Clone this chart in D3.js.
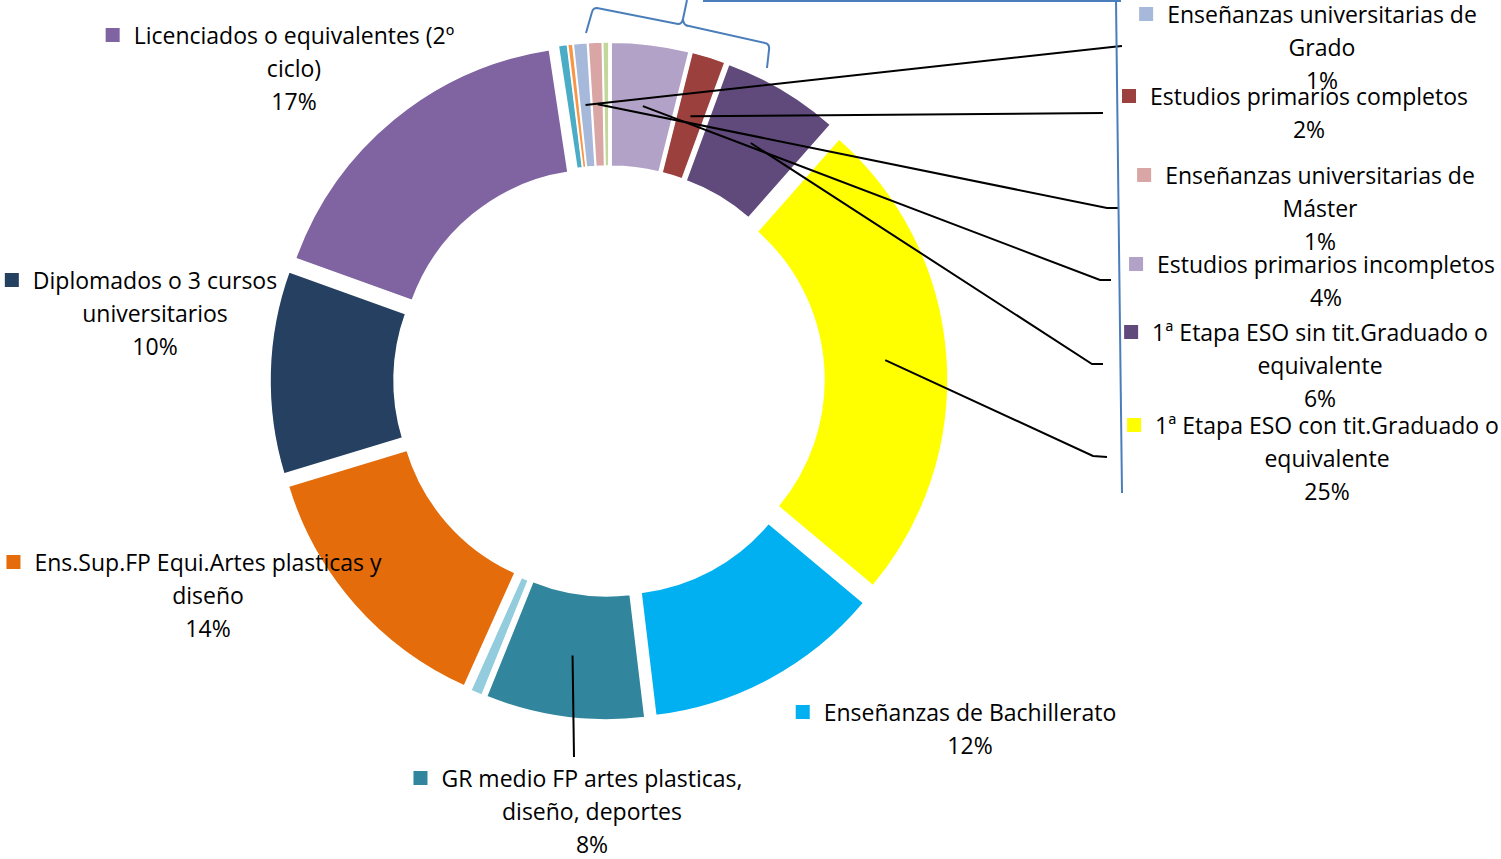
<!DOCTYPE html>
<html>
<head>
<meta charset="utf-8">
<script src="https://cdn.jsdelivr.net/npm/d3@7"></script>
<style>
  body { margin: 0; background: #fff; }
  text { font-family: "Open Sans", sans-serif; fill: #000; }
</style>
</head>
<body>
<script>
// data, clockwise from 12 o'clock
var categories = [
  "Estudios primarios incompletos",
  "Estudios primarios completos",
  "1ª Etapa ESO sin tit.Graduado o equivalente",
  "1ª Etapa ESO con tit.Graduado o equivalente",
  "Enseñanzas de Bachillerato",
  "GR medio FP artes plasticas, diseño, deportes",
  "",
  "Ens.Sup.FP Equi.Artes plasticas y diseño",
  "Diplomados o 3 cursos universitarios",
  "Licenciados o equivalentes (2º ciclo)",
  "",
  "",
  "Enseñanzas universitarias de Grado",
  "Enseñanzas universitarias de Máster",
  ""
];
var values = [3.9, 1.7, 5.9, 24.6, 12.0, 8.0, 0.6, 13.6, 10.2, 17.1, 0.45, 0.25, 0.7, 0.7, 0.3];
var colors = ["#B3A2C7", "#9B403D", "#604A7B", "#FFFF00", "#00B0F0", "#31859C", "#93CDDD",
              "#E46C0A", "#254061", "#8064A2", "#4BACC6", "#F79646", "#A7B9DA", "#D9A6A5", "#C3D69B"];

// label layout: slice index, text centre x, first baseline, words on first line, leader end points
var labelLayout = [
  { i: 9,  cx: 294,  y: 44,  wrap: 4, leader: null },
  { i: 8,  cx: 155,  y: 289, wrap: 4, leader: null },
  { i: 7,  cx: 208,  y: 571, wrap: 4, leader: null },
  { i: 5,  cx: 592,  y: 787, wrap: 5, leader: [[574, 757]] },
  { i: 4,  cx: 970,  y: 721, wrap: 9, leader: null },
  { i: 12, cx: 1322, y: 23,  wrap: 3, leader: [[1112, 47], [1122, 46]] },
  { i: 1,  cx: 1309, y: 105, wrap: 9, leader: [[1103, 113]] },
  { i: 13, cx: 1320, y: 184, wrap: 3, leader: [[1107, 208], [1118, 208]] },
  { i: 0,  cx: 1326, y: 273, wrap: 9, leader: [[1100, 280], [1111, 280]] },
  { i: 2,  cx: 1320, y: 341, wrap: 6, leader: [[1092, 364], [1103, 364]] },
  { i: 3,  cx: 1327, y: 434, wrap: 6, leader: [[1093, 456], [1107, 457]] }
];

var width = 1501, height = 859;
var cx = 609, cy = 381, outerR = 321, innerR = 197, explode = 18;
var lineH = 33, fontSize = 23;

var svg = d3.select("body")
  .append("svg")
  .attr("width", width)
  .attr("height", height);

var total = d3.sum(values);
var pct = d3.format(".0%");

var arcs = d3.pie()
  .sort(null)
  .value(function(i) { return values[i]; })(d3.range(values.length));

var arc = d3.arc().innerRadius(innerR).outerRadius(outerR);

function offset(d) {
  var a = (d.startAngle + d.endAngle) / 2;
  return [Math.sin(a) * explode, -Math.cos(a) * explode];
}

var ring = svg.append("g")
  .attr("transform", "translate(" + cx + "," + cy + ")");

ring.selectAll("path")
  .data(arcs)
  .join("path")
  .attr("d", arc)
  .attr("transform", function(d) {
    var o = offset(d);
    return "translate(" + o[0] + "," + o[1] + ")";
  })
  .attr("fill", function(d) { return colors[d.data]; })
  .attr("stroke", "#fff")
  .attr("stroke-width", 1.5);

// leader lines
var line = d3.line();
labelLayout.forEach(function(l) {
  if (!l.leader) return;
  var d = arcs[l.i];
  var c = arc.centroid(d), o = offset(d);
  var start = [cx + c[0] + o[0], cy + c[1] + o[1]];
  svg.append("path")
    .attr("d", line([start].concat(l.leader)))
    .attr("fill", "none")
    .attr("stroke", "#000")
    .attr("stroke-width", 2);
});

// hand drawn blue annotation (brace and frame lines)
var blue = "#4A7EBB";
svg.append("path")
  .attr("d", "M586,33 L592,12 Q593,8 597,8 L678,24 Q682,24 683,19 L687,0 M683,20 Q684,26 689,26 L765,43 Q770,44 769,50 L767,68")
  .attr("fill", "none").attr("stroke", blue).attr("stroke-width", 2);
svg.append("path")
  .attr("d", "M703,1 L1121,1 M1116,0 L1122,493")
  .attr("fill", "none").attr("stroke", blue).attr("stroke-width", 2);

// labels
labelLayout.forEach(function(l) {
  var words = categories[l.i].split(" ");
  var lines = [words.slice(0, l.wrap).join(" ")];
  if (words.length > l.wrap) lines.push(words.slice(l.wrap).join(" "));
  lines.push(pct(values[l.i] / total));

  var g = svg.append("g");
  var first = null;
  lines.forEach(function(t, k) {
    var txt = g.append("text")
      .attr("x", l.cx)
      .attr("y", l.y + k * lineH)
      .attr("text-anchor", "middle")
      .attr("font-size", fontSize)
      .text(t);
    if (k === 0) first = txt;
  });
  var w = first.node().getComputedTextLength();
  g.append("rect")
    .attr("x", l.cx - w / 2 - 28)
    .attr("y", l.y - 16)
    .attr("width", 14)
    .attr("height", 14)
    .attr("fill", colors[l.i]);
});
</script>
</body>
</html>
